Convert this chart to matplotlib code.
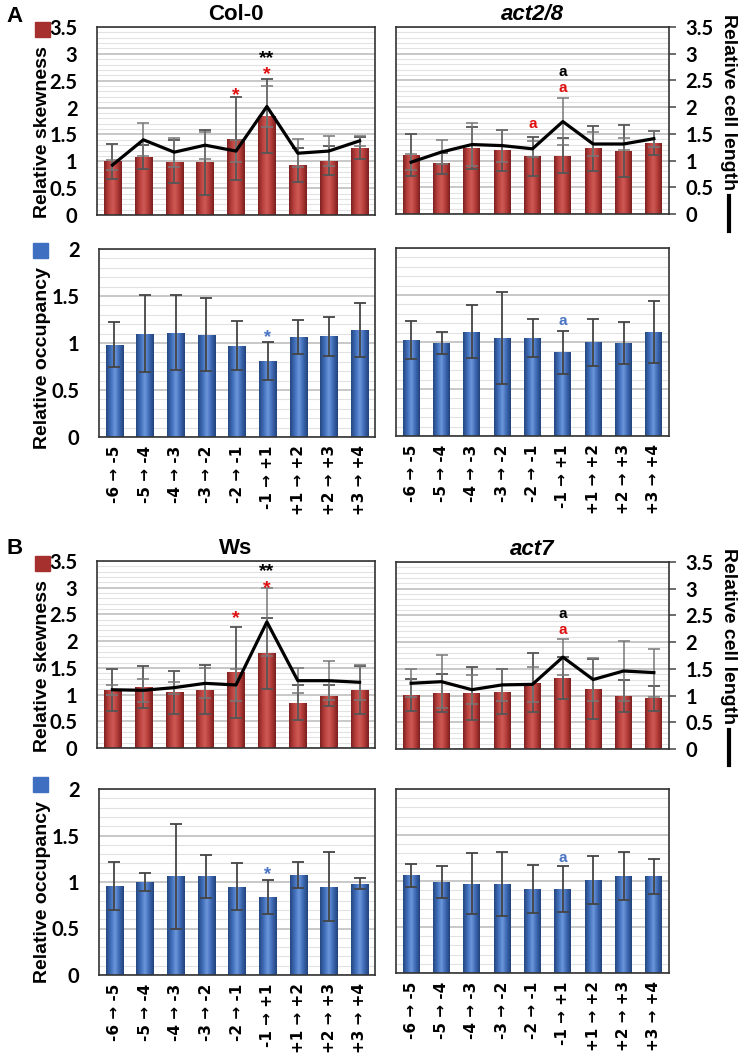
import matplotlib
matplotlib.use("Agg")
import matplotlib.pyplot as plt
import numpy as np
from matplotlib.colors import LinearSegmentedColormap
from matplotlib.ticker import MultipleLocator

# x categories (transitions)
steps = ["-6 \u2192 -5", "-5 \u2192 -4", "-4 \u2192 -3", "-3 \u2192 -2", "-2 \u2192 -1",
         "-1 \u2192 +1", "+1 \u2192 +2", "+2 \u2192 +3", "+3 \u2192 +4"]

# panel A, Col-0
skew_col0 = [1.00, 1.08, 0.99, 0.98, 1.42, 1.84, 0.93, 1.01, 1.25]
skew_col0_err = [0.33, 0.23, 0.40, 0.60, 0.77, 0.69, 0.31, 0.27, 0.20]
len_col0 = [0.93, 1.40, 1.17, 1.30, 1.19, 2.02, 1.15, 1.19, 1.38]
len_col0_err = [0.10, 0.31, 0.27, 0.25, 0.20, 0.38, 0.26, 0.28, 0.10]
occ_col0 = [0.98, 1.10, 1.11, 1.09, 0.97, 0.81, 1.06, 1.07, 1.14]
occ_col0_err = [0.24, 0.41, 0.40, 0.39, 0.26, 0.20, 0.18, 0.21, 0.29]

# panel A, act2/8
skew_act28 = [1.11, 0.95, 1.23, 1.19, 1.08, 1.09, 1.23, 1.18, 1.33]
skew_act28_err = [0.39, 0.20, 0.39, 0.38, 0.36, 0.33, 0.42, 0.48, 0.22]
len_act28 = [0.97, 1.16, 1.30, 1.28, 1.22, 1.73, 1.31, 1.31, 1.41]
len_act28_err = [0.15, 0.22, 0.40, 0.30, 0.15, 0.44, 0.22, 0.12, 0.15]
occ_act28 = [1.02, 0.99, 1.11, 1.04, 1.04, 0.89, 1.00, 0.99, 1.11]
occ_act28_err = [0.20, 0.12, 0.28, 0.49, 0.20, 0.23, 0.25, 0.22, 0.33]

# panel B, Ws
skew_ws = [1.08, 1.14, 1.04, 1.09, 1.42, 1.77, 0.85, 0.98, 1.09]
skew_ws_err = [0.39, 0.40, 0.40, 0.46, 0.85, 0.66, 0.33, 0.20, 0.45]
len_ws = [1.09, 1.08, 1.13, 1.21, 1.18, 2.36, 1.26, 1.26, 1.23]
len_ws_err = [0.09, 0.21, 0.11, 0.28, 0.30, 0.64, 0.23, 0.37, 0.33]
occ_ws = [0.96, 1.00, 1.06, 1.06, 0.95, 0.84, 1.08, 0.95, 0.98]
occ_ws_err = [0.26, 0.10, 0.56, 0.23, 0.25, 0.18, 0.14, 0.37, 0.06]

# panel B, act7
skew_act7 = [1.01, 1.05, 1.04, 1.07, 1.24, 1.33, 1.13, 1.00, 0.95]
skew_act7_err = [0.30, 0.35, 0.50, 0.42, 0.55, 0.40, 0.56, 0.30, 0.23]
len_act7 = [1.23, 1.26, 1.11, 1.20, 1.21, 1.72, 1.30, 1.46, 1.43]
len_act7_err = [0.26, 0.50, 0.27, 0.30, 0.33, 0.33, 0.40, 0.56, 0.45]
occ_act7 = [1.06, 0.99, 0.97, 0.97, 0.91, 0.91, 1.01, 1.05, 1.05]
occ_act7_err = [0.12, 0.17, 0.33, 0.35, 0.26, 0.25, 0.26, 0.26, 0.19]

# significance marks: (bar index, y, text, colour)
marks_col0 = [(4, 2.22, "*", "red"), (5, 2.62, "*", "red"), (5, 2.92, "**", "black")]
marks_act28 = [(4, 1.68, "a", "red"), (5, 2.35, "a", "red"), (5, 2.65, "a", "black")]
marks_ws = [(4, 2.42, "*", "red"), (5, 2.98, "*", "red"), (5, 3.30, "**", "black")]
marks_act7 = [(5, 2.22, "a", "red"), (5, 2.52, "a", "black")]
marks_occ_col0 = [(5, 1.06, "*", "blue")]
marks_occ_act28 = [(5, 1.22, "a", "blue")]
marks_occ_ws = [(5, 1.08, "*", "blue")]
marks_occ_act7 = [(5, 1.25, "a", "blue")]

mark_colors = {"red": "#e01010", "black": "black", "blue": "#4a74c4"}
red_cm = LinearSegmentedColormap.from_list("r", ["#7e2120", "#b8403d", "#cf5a55", "#b23b38", "#7a1f1e"])
blue_cm = LinearSegmentedColormap.from_list("b", ["#24477f", "#3f6cb8", "#6b97dc", "#3c67b2", "#22437a"])

W, H = 742, 1059
fig = plt.figure(figsize=(W / 100, H / 100), dpi=100)

tick_font = "Lato"
lab_font = ["Liberation Sans", "DejaVu Sans"]


def add_ax(x0, y0, x1, y1):
    return fig.add_axes([x0 / W, 1 - y1 / H, (x1 - x0) / W, (y1 - y0) / H])


def grad_bars(ax, vals, cmap):
    x = np.arange(len(vals))
    bars = ax.bar(x, vals, width=0.56, color=cmap(0.5), zorder=2)
    grad = np.linspace(0, 1, 64).reshape(1, -1)
    for b in bars:
        im = ax.imshow(grad, cmap=cmap, aspect="auto", zorder=2.1,
                       extent=(b.get_x(), b.get_x() + b.get_width(), 0, b.get_height()))
        im.set_clip_path(b)
    return x


def style(ax, top, right_labels, bottom_labels, minor=0.1):
    ax.set_xlim(-0.5, 8.5)
    ax.set_ylim(0, top)
    ax.yaxis.set_major_locator(MultipleLocator(0.5))
    ax.yaxis.set_minor_locator(MultipleLocator(minor))
    ax.grid(axis="y", which="major", color="#c4c4c4", lw=1.3, zorder=0)
    ax.grid(axis="y", which="minor", color="#e2e2e2", lw=0.8, zorder=0)
    ax.set_axisbelow(True)
    for s in ax.spines.values():
        s.set_color("#333333")
        s.set_linewidth(1.2)
    ax.tick_params(axis="y", which="minor", length=0)
    if right_labels:
        ax.yaxis.tick_right()
        ax.tick_params(axis="y", which="major", direction="out", length=5,
                       width=1.1, color="#444444", pad=7)
    elif right_labels is None:
        ax.tick_params(axis="y", which="major", length=0, labelleft=False)
    else:
        ax.tick_params(axis="y", which="major", length=0, pad=14)
    ax.yaxis.set_major_formatter(matplotlib.ticker.FuncFormatter(lambda v, p: "%g" % v))
    for t in ax.get_yticklabels():
        t.set_fontfamily(tick_font)
        t.set_fontweight("bold")
        t.set_fontsize(14.5)
    ax.set_xticks(range(9))
    if bottom_labels:
        ax.set_xticklabels(steps, rotation=90, fontsize=11, fontweight="bold",
                           family=["DejaVu Sans"])
        ax.tick_params(axis="x", length=0, pad=6)
    else:
        ax.tick_params(axis="x", length=0, labelbottom=False)


def skew_panel(ax, bars, bars_err, line, line_err, marks, title, italic, right):
    x = grad_bars(ax, bars, red_cm)
    ax.errorbar(x, bars, yerr=bars_err, fmt="none", ecolor="#555555",
                elinewidth=1.3, capsize=4, capthick=1.3, zorder=3)
    ax.errorbar(x, line, yerr=line_err, fmt="none", ecolor="#777777",
                elinewidth=1.1, capsize=4, capthick=1.1, zorder=3)
    ax.plot(x, line, color="black", lw=2.3, zorder=4)
    for i, y, s, c in marks:
        ax.text(i, y, s, ha="center", va="center", color=mark_colors[c],
                fontsize=14 if s != "a" else 11, fontweight="bold", family=lab_font, zorder=5)
    ax.set_title(title, fontsize=16, fontweight="bold", family=lab_font,
                 style="italic" if italic else "normal", pad=5)
    style(ax, 3.5, right, False)


def occ_panel(ax, vals, err, marks, left):
    x = grad_bars(ax, vals, blue_cm)
    ax.errorbar(x, vals, yerr=err, fmt="none", ecolor="#444444",
                elinewidth=1.3, capsize=4, capthick=1.3, zorder=3)
    for i, y, s, c in marks:
        ax.text(i, y, s, ha="center", va="center", color=mark_colors[c],
                fontsize=13 if s != "a" else 11, fontweight="bold", family=lab_font, zorder=5)
    style(ax, 2, False if left else None, True)


# A
ax1 = add_ax(97, 27, 375, 215)
skew_panel(ax1, skew_col0, skew_col0_err, len_col0, len_col0_err, marks_col0, "Col-0", False, False)
ax2 = add_ax(396, 27, 669, 214)
skew_panel(ax2, skew_act28, skew_act28_err, len_act28, len_act28_err, marks_act28, "act2/8", True, True)
ax3 = add_ax(99, 249, 375, 437)
occ_panel(ax3, occ_col0, occ_col0_err, marks_occ_col0, True)
ax4 = add_ax(396, 248, 669, 436)
occ_panel(ax4, occ_act28, occ_act28_err, marks_occ_act28, False)

# B
ax5 = add_ax(97, 561, 375, 748)
skew_panel(ax5, skew_ws, skew_ws_err, len_ws, len_ws_err, marks_ws, "Ws", False, False)
ax6 = add_ax(396, 562, 669, 749)
skew_panel(ax6, skew_act7, skew_act7_err, len_act7, len_act7_err, marks_act7, "act7", True, True)
ax7 = add_ax(99, 789, 375, 975)
occ_panel(ax7, occ_ws, occ_ws_err, marks_occ_ws, True)
ax8 = add_ax(396, 789, 669, 973)
occ_panel(ax8, occ_act7, occ_act7_err, marks_occ_act7, False)

# side labels and legend keys
for top in (0, 534):
    fig.text(43 / W, 1 - (top + 132) / H, "Relative skewness", rotation=90, ha="center",
             va="center", fontsize=14, fontweight="bold", family=lab_font)
    fig.patches.append(plt.Rectangle((35 / W, 1 - (top + 37) / H), 15 / W, 15 / H,
                                     color="#a5302e", transform=fig.transFigure))
    fig.text(43 / W, 1 - (top + 358) / H, "Relative occupancy", rotation=90, ha="center",
             va="center", fontsize=14, fontweight="bold", family=lab_font)
    fig.patches.append(plt.Rectangle((33 / W, 1 - (top + 258) / H), 15 / W, 15 / H,
                                     color="#3f6fc0", transform=fig.transFigure))
    fig.text(729 / W, 1 - (top + 102) / H, "Relative cell length", rotation=-90, ha="center",
             va="center", fontsize=14, fontweight="bold", family=lab_font)
    fig.lines.append(plt.Line2D([729 / W, 729 / W], [1 - (top + 196) / H, 1 - (top + 231) / H],
                                color="black", lw=3, transform=fig.transFigure))

fig.text(6 / W, 1 - 16 / H, "A", fontsize=16, fontweight="bold", family=lab_font, va="center")
fig.text(6 / W, 1 - 549 / H, "B", fontsize=16, fontweight="bold", family=lab_font, va="center")

fig.savefig("out.png", dpi=100, facecolor="white")
